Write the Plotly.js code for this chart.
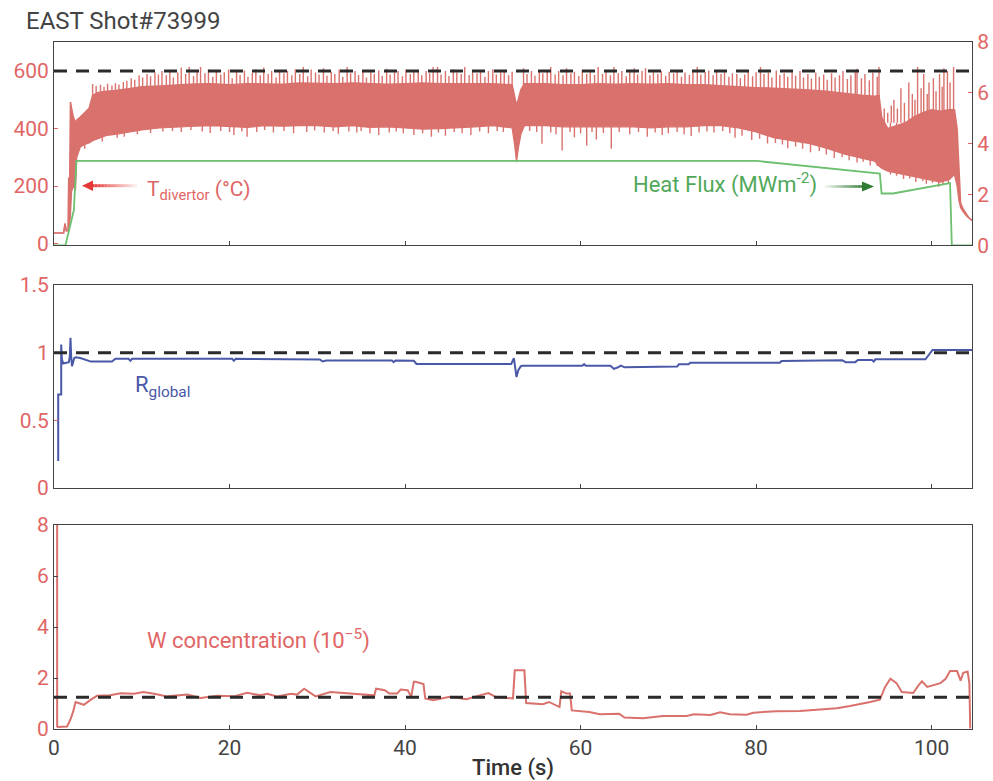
<!DOCTYPE html>
<html>
<head>
<meta charset="utf-8">
<script src="https://cdn.plot.ly/plotly-3.0.1.min.js"></script>
<style>html,body{margin:0;padding:0;background:#fff;}#chart{width:993px;height:781px;}</style>
</head>
<body>
<div id="chart"></div>
<script>
// ---------------- DATA ----------------
// Divertor temperature (°C): dense core of the noisy signal (lower / upper edge)
const bandT  = [0,1.1,1.25,1.4,1.6,1.68,1.76,1.88,2.0,2.2,2.45,2.6,3.0,3.5,4.0,4.4,5,6,7,8.5,10,12,14,16,18,20,22,24,26,28,30,32,34,36,38,40,42,44,46,48,50,52.2,52.5,52.7,52.9,53.2,53.6,56,58,60,62,64,66,68,70,72,74,76,78,80,82,84,86,88,90,92,93.5,94.0,94.3,95,96,97,98,99,100,101,102,102.6,102.9,103.1,103.3,103.6,104,104.3,104.6];
const bandLo = [37,37,70,45,45,45,60,100,180,200,185,300,336,345,350,358,365,376,380,388,395,402,406,408,410,406,404,410,408,410,410,406,410,404,406,402,398,400,402,406,410,402,340,283,330,380,410,410,406,406,406,408,406,402,406,406,410,410,402,388,368,358,348,332,312,297,287,270,262,252,246,240,234,228,222,214,222,240,200,150,125,110,95,86,80];
const bandHi = [37,37,70,45,45,230,120,492,470,440,420,430,440,455,470,515,525,530,532,538,545,548,552,555,556,552,556,556,554,558,556,556,558,556,554,556,558,556,556,554,556,552,515,480,500,535,556,556,552,552,556,554,556,554,556,552,552,548,546,542,540,538,534,530,522,516,512,515,440,400,410,420,440,455,465,460,465,465,400,250,140,120,100,88,81];
// Temperature spikes above the dense core (time s, peak °C)
const spikeUpT = [4.4,4.8,5.3,5.7,6.1,6.6,7.0,7.4,7.9,8.3,8.8,9.2,9.7,10.1,10.6,11.0,11.5,11.9,
  12.3,12.8,13.2,13.6,14.1,14.5,15.0,15.4,15.9,16.3,16.7,17.2,17.6,18.1,18.5,19.0,19.4,19.9,20.3,20.8,21.2,21.7,22.1,22.6,23.0,23.5,23.9,24.4,24.8,25.3,25.7,26.2,26.6,27.1,27.5,28.0,28.4,28.9,29.3,29.8,30.2,30.7,31.1,31.6,32.0,32.5,32.9,33.4,33.8,34.3,34.7,35.2,35.6,36.1,36.5,37.0,37.4,37.9,38.3,38.8,39.2,39.7,40.1,40.6,41.0,41.5,41.9,42.4,42.8,43.2,43.7,44.1,44.6,45.0,45.5,45.9,46.4,46.8,47.3,47.7,48.2,48.6,49.1,49.5,50.0,50.4,50.9,51.3,51.8,52.2,
  53.5,53.9,54.4,54.8,55.3,55.7,56.2,56.6,57.1,57.5,58.0,58.4,58.9,59.3,59.8,60.2,60.7,61.1,61.6,62.0,62.5,62.9,63.4,63.8,64.3,64.7,65.2,65.6,66.1,66.5,67.0,67.4,67.9,68.3,68.8,69.2,69.7,70.1,70.6,71.0,71.5,71.9,72.4,72.8,73.3,73.7,74.2,74.6,75.1,75.5,76.0,76.4,76.9,77.3,77.8,78.2,78.7,79.1,79.6,80.0,80.5,80.9,81.4,81.8,82.3,82.7,83.2,83.6,84.1,84.5,85.0,85.4,85.9,86.3,86.8,87.2,87.7,88.1,88.6,89.0,89.5,89.9,90.4,90.8,91.3,91.5,92.0,92.4,92.9,93.3,93.8,94.0,
  94.6,95.0,95.4,95.7,96.1,96.5,96.9,97.4,97.8,98.1,98.4,98.8,99.1,99.5,99.7,100.2,100.5,100.9,101.2,101.4,101.8,102.1,102.5];
const spikeUpV = [555,548,552,545,556,550,558,553,562,566,575,570,585,578,590,582,595,588,
  600,585,604,578,595,612,590,614,583,600,614,592,605,580,600,588,596,605,575,598,586,602,580,594,606,585,612,590,600,578,604,592,600,585,606,590,614,582,605,595,588,610,584,598,590,605,580,614,592,600,586,604,578,596,590,602,584,608,588,596,600,582,605,590,598,603,585,600,592,614,614,588,600,583,606,595,590,614,586,600,592,604,580,600,606,588,596,602,585,598,
  610,590,600,584,602,592,598,614,588,600,585,610,592,598,583,604,590,596,586,614,590,604,585,614,592,600,582,598,610,588,600,610,585,596,590,600,584,598,592,604,580,595,586,600,614,588,596,602,585,600,590,596,580,592,590,575,588,598,582,596,614,590,595,578,602,586,592,580,596,584,600,578,590,574,595,580,588,570,592,578,585,600,572,585,596,608,575,590,568,595,580,614,
  470,455,480,500,470,540,490,560,520,500,614,540,590,520,560,575,530,590,545,610,600,560,614];
// Temperature spikes below the dense core (time s, minimum °C)
const spikeDnT = [3.5,5.5,7.2,8.0,9.5,11.0,12.4,13.5,14.5,15.6,16.9,17.8,19.0,20.0,20.5,21.4,22.0,23.1,24.0,25.0,26.2,27.3,28.8,29.7,30.8,31.8,32.4,33.6,34.5,35.0,36.0,37.0,38.2,39.0,39.8,41.0,42.0,43.0,43.8,44.6,45.6,46.5,47.5,48.5,49.5,50.5,51.2,54.2,55.0,55.6,56.6,57.2,57.9,58.8,59.3,60.0,60.7,61.3,61.8,62.6,63.5,64.4,65.6,66.6,67.6,68.5,69.3,70.0,71.0,71.8,72.6,73.5,74.4,75.2,76.2,77.0,77.6,78.4,79.5,80.4,81.3,82.2,83.0,83.6,84.5,85.3,86.2,87.2,88.0,88.9,89.8,90.6,91.5,92.2,93.0,93.8,95.3,96.0,96.8,97.5,98.2,99.0,99.4,100.1,100.8,101.3,101.9];
const spikeDnV = [330,355,368,372,380,385,390,392,388,395,390,385,392,388,378,390,372,388,395,386,392,384,388,393,386,392,382,390,386,392,384,378,386,390,384,378,384,372,386,375,388,384,378,390,384,392,388,392,388,347,386,380,324,388,370,384,341,388,362,385,330,388,380,388,372,386,378,384,388,380,374,386,390,386,392,384,368,375,360,365,348,350,345,332,338,330,318,322,310,298,300,290,282,285,272,270,240,236,225,226,214,218,208,212,198,205,210];
const spikeBase = 420;
// Heat flux (MW m^-2)
const hfT = [0,1.3,2.26,2.55,80.1,94.1,94.3,95.6,102.1,102.3,104.6];
const hfV = [0,0,1.38,3.32,3.32,2.82,2.04,2.04,2.45,0,0];
// R_global
const rT = [0.48,0.48,0.82,0.82,0.9,1.05,1.69,1.8,1.88,1.95,2.05,2.14,2.3,2.45,3.0,4.2,6.6,7.0,8.5,8.7,8.9,20.3,20.5,20.7,30.3,30.6,31.0,38.5,38.7,38.9,41.0,41.3,52.1,52.4,52.7,52.9,53.2,53.4,60.2,60.4,60.6,63.4,63.8,64.2,64.6,65.0,71.0,71.2,72.3,72.5,82.7,82.9,86.5,86.7,89.8,90.2,91.3,91.6,93.2,93.4,93.6,99.3,100.1,104.6];
const rV = [0.20,0.69,0.69,1.06,0.95,0.92,0.93,0.97,1.11,0.98,0.90,0.92,0.96,0.966,0.96,0.934,0.934,0.955,0.955,0.94,0.955,0.955,0.94,0.955,0.95,0.935,0.942,0.942,0.93,0.942,0.94,0.917,0.917,0.96,0.82,0.87,0.90,0.904,0.904,0.915,0.904,0.904,0.88,0.89,0.905,0.892,0.897,0.914,0.914,0.926,0.926,0.939,0.939,0.944,0.944,0.93,0.93,0.946,0.946,0.935,0.951,0.951,1.02,1.02];
// W concentration (1e-5)
const wT = [0.36,0.36,0.45,1.5,1.9,2.2,2.45,3.0,3.4,4.2,4.9,6.4,7.6,9.1,10.2,11.4,12.9,15.2,16.7,18.6,20.5,22,23.5,24.3,25.4,27,27.7,28.5,29.8,31.5,33.8,36.5,36.7,37.7,38.2,39.1,39.5,40.3,40.7,41.0,41.2,42.1,42.3,43.2,45.1,47,48.5,49.5,50.4,52.3,52.5,53.6,53.8,55.7,56.4,57.6,57.8,58.4,58.8,59.0,61,62.2,64.4,65,67.1,69.4,72.1,72.9,74.8,75.9,77,78.9,79.7,82.3,85,86.9,89.2,90.7,91.8,93,94.1,94.7,95.3,96,96.6,97.9,98.5,98.9,99.5,101,101.6,102.1,102.9,103.3,103.6,104.1,104.3,104.4];
const wV = [8.0,0.1,0.08,0.1,0.4,0.7,1.06,1.0,0.95,1.15,1.3,1.32,1.4,1.38,1.45,1.38,1.28,1.35,1.22,1.30,1.28,1.42,1.32,1.38,1.28,1.38,1.35,1.58,1.28,1.45,1.39,1.32,1.58,1.52,1.39,1.39,1.55,1.52,1.26,1.85,1.85,1.76,1.2,1.13,1.26,1.17,1.32,1.41,1.24,1.2,2.3,2.3,1.02,0.97,1.06,0.86,1.48,1.39,1.39,0.73,0.67,0.58,0.6,0.45,0.42,0.51,0.51,0.58,0.55,0.66,0.58,0.56,0.64,0.70,0.71,0.76,0.81,0.9,0.97,1.06,1.15,1.65,1.97,1.8,1.45,1.41,1.71,1.87,1.65,1.8,1.97,2.27,2.27,1.9,2.2,2.25,1.8,0.02];
// Reference levels
const tLimit = 600, rRef = 1.0, wRef = 1.25;
const xTicks = [0,20,40,60,80,100];

// ---------------- STYLE ----------------
const RED = '#d9716d', REDTXT = '#e06666', BLUE = '#4a58a8', GREEN = '#6cc06f', GREENTXT = '#52a85a', DARK = '#444';
const FONT = 'Roboto, "Open Sans", sans-serif';
const TICK = 21, TXT = 22;
const X = px => (px - 54) / 918;
const Y = py => (729 - py) / 687;

// spike segments built from the spike arrays
const sx = [], sy = [];
spikeUpT.forEach((t, i) => { sx.push(t, t, null); sy.push(spikeBase, spikeUpV[i], null); });
spikeDnT.forEach((t, i) => { sx.push(t, t, null); sy.push(spikeBase, spikeDnV[i], null); });

const traces = [
  {x: bandT, y: bandLo, xaxis: 'x', yaxis: 'y', mode: 'lines', line: {color: RED, width: 1.2}, hoverinfo: 'skip'},
  {x: bandT, y: bandHi, xaxis: 'x', yaxis: 'y', mode: 'lines', fill: 'tonexty', fillcolor: RED, line: {color: RED, width: 1.6}, hoverinfo: 'skip'},
  {x: sx, y: sy, xaxis: 'x', yaxis: 'y', mode: 'lines', line: {color: RED, width: 1.4}, connectgaps: false, hoverinfo: 'skip'},
  {x: hfT, y: hfV, xaxis: 'x', yaxis: 'y4', mode: 'lines', line: {color: GREEN, width: 1.8}},
  {x: rT, y: rV, xaxis: 'x2', yaxis: 'y2', mode: 'lines', line: {color: BLUE, width: 2}},
  {x: wT, y: wV, xaxis: 'x3', yaxis: 'y3', mode: 'lines', line: {color: RED, width: 2}}
];

const xBase = {range: [0, 104.6], tickvals: xTicks, ticks: 'inside', ticklen: 4, tickcolor: DARK,
  showline: true, mirror: true, linecolor: DARK, linewidth: 1, showgrid: false, zeroline: false,
  tickfont: {family: FONT, size: TICK, color: '#444'}};
const yBase = {ticks: 'inside', ticklen: 4, tickcolor: REDTXT, showline: true, mirror: true,
  linecolor: DARK, linewidth: 1, showgrid: false, zeroline: false, automargin: false,
  tickfont: {family: FONT, size: TICK, color: REDTXT}};

const DASH = {color: '#2b2b2b', width: 3, dash: '13px,9px'};
const shapes = [
  {type: 'line', xref: 'paper', x0: 0, x1: 1, yref: 'y', y0: tLimit, y1: tLimit, line: DASH},
  {type: 'line', xref: 'paper', x0: 0, x1: 1, yref: 'y2', y0: rRef, y1: rRef, line: DASH},
  {type: 'line', xref: 'paper', x0: 0, x1: 1, yref: 'y3', y0: wRef, y1: wRef, line: DASH}
];
// red arrow (gradient tail, head pointing left)
const N = 14;
for (let i = 0; i < N; i++) {
  const a = 91 + (137 - 91) * i / N, b = 91 + (137 - 91) * (i + 1) / N;
  shapes.push({type: 'line', xref: 'paper', yref: 'paper', x0: X(a), x1: X(b), y0: Y(185.7), y1: Y(185.7),
    line: {color: `rgba(229,57,53,${(1 - i / N) * 0.95 + 0.03})`, width: 3}});
}
shapes.push({type: 'path', xref: 'paper', yref: 'paper',
  path: `M ${X(82)} ${Y(185.7)} L ${X(93)} ${Y(180.5)} L ${X(93)} ${Y(190.9)} Z`,
  fillcolor: '#e53935', line: {width: 0}});
// green arrow (gradient tail, head pointing right)
for (let i = 0; i < N; i++) {
  const a = 825 + (863 - 825) * i / N, b = 825 + (863 - 825) * (i + 1) / N;
  shapes.push({type: 'line', xref: 'paper', yref: 'paper', x0: X(a), x1: X(b), y0: Y(186.5), y1: Y(186.5),
    line: {color: `rgba(46,125,50,${(i + 1) / N * 0.95 + 0.03})`, width: 2.6}});
}
shapes.push({type: 'path', xref: 'paper', yref: 'paper',
  path: `M ${X(874)} ${Y(186.5)} L ${X(862)} ${Y(181.5)} L ${X(862)} ${Y(191.5)} Z`,
  fillcolor: '#2e7d32', line: {width: 0}});

const annotations = [
  {xref: 'paper', yref: 'paper', x: X(145), y: Y(190), xanchor: 'left', yanchor: 'middle', showarrow: false,
   text: 'T<sub>divertor</sub> (°C)', font: {family: FONT, size: 21, color: REDTXT}},
  {xref: 'paper', yref: 'paper', x: X(819), y: Y(183), xanchor: 'right', yanchor: 'middle', showarrow: false,
   text: 'Heat Flux (MWm<sup>-2</sup>)', font: {family: FONT, size: TXT, color: GREENTXT}},
  {xref: 'paper', yref: 'paper', x: X(133), y: Y(387), xanchor: 'left', yanchor: 'middle', showarrow: false,
   text: 'R<sub>global</sub>', font: {family: FONT, size: TXT, color: BLUE}},
  {xref: 'paper', yref: 'paper', x: X(145), y: Y(639), xanchor: 'left', yanchor: 'middle', showarrow: false,
   text: 'W concentration (10<sup>−5</sup>)', font: {family: FONT, size: TXT, color: REDTXT}}
];

const layout = {
  width: 993, height: 781,
  margin: {l: 54, r: 21, t: 42, b: 52},
  paper_bgcolor: '#fff', plot_bgcolor: '#fff',
  showlegend: false,
  font: {family: FONT, size: TXT, color: '#444'},
  title: {text: 'EAST Shot#73999', xref: 'container', yref: 'container', x: 26 / 993, xanchor: 'left',
          y: 1 - 21 / 781, yanchor: 'middle', font: {family: FONT, size: 24, color: '#444'}},
  xaxis: Object.assign({}, xBase, {anchor: 'y', showticklabels: false}),
  xaxis2: Object.assign({}, xBase, {anchor: 'y2', showticklabels: false}),
  xaxis3: Object.assign({}, xBase, {anchor: 'y3', showticklabels: true, automargin: false,
    title: {text: 'Time (s)', standoff: 7, font: {family: FONT, size: TXT, color: '#333', weight: 500}}}),
  yaxis: Object.assign({}, yBase, {domain: [0.704, 1], range: [-6, 701], tickvals: [0, 200, 400, 600]}),
  yaxis4: Object.assign({}, yBase, {overlaying: 'y', side: 'right', anchor: 'x', range: [0, 8], tickvals: [0, 2, 4, 6, 8], mirror: false}),
  yaxis2: Object.assign({}, yBase, {domain: [0.3508, 0.6463], range: [0, 1.5], tickvals: [0, 0.5, 1, 1.5], ticktext: ['0', '0.5', '1', '1.5']}),
  yaxis3: Object.assign({}, yBase, {domain: [0, 0.2969], range: [0, 8], tickvals: [0, 2, 4, 6, 8], tickcolor: DARK}),
  shapes: shapes,
  annotations: annotations
};

Plotly.newPlot('chart', traces, layout, {staticPlot: true, displayModeBar: false});
</script>
</body>
</html>
